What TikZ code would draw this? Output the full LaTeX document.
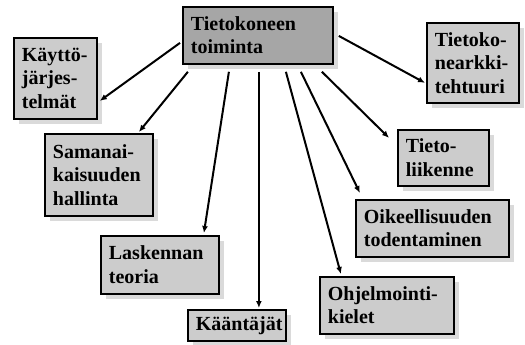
\documentclass[tikz,border=0pt]{standalone}
\usepackage{fontspec}
\setmainfont{Liberation Serif}
\usetikzlibrary{shadows,arrows.meta}
\definecolor{boxfill}{HTML}{CCCCCC}
\definecolor{hubfill}{HTML}{A6A6A6}
\definecolor{shadefill}{HTML}{DADADA}
\begin{document}
\begin{tikzpicture}[x=1pt,y=-1pt,
  topic/.style={draw=black, line width=1.8pt, fill=boxfill, anchor=north west,
    inner xsep=8pt, inner ysep=0pt, align=left,
    font=\fontsize{20}{23.5}\selectfont\bfseries,
    drop shadow={shadow xshift=5pt, shadow yshift=-5pt, fill=shadefill, opacity=1}},
  hub/.style={topic, fill=hubfill},
  link/.style={line width=2pt, -{Latex[length=7pt,width=6pt]}}]
\useasboundingbox (0,0) rectangle (525,345);

% boxes: position of top-left corner, text width = box width - 16
\node[hub,   text width=134pt, minimum height=57pt] (c)  at (182,6)   {Tietokoneen\\toiminta};
\node[topic, text width=67pt,  minimum height=81pt] (k)  at (13,37)   {Käyttö-\\järjes-\\telmät};
\node[topic, text width=92pt,  minimum height=82pt] (s)  at (44,133)  {Samanai-\\kaisuuden\\hallinta};
\node[topic, text width=102pt, minimum height=58pt] (l)  at (100,235) {Laskennan\\teoria};
\node[topic, text width=82pt,  minimum height=31pt] (kj) at (187,309) {Kääntäjät};
\node[topic, text width=76pt,  minimum height=80pt] (a)  at (426,22)  {Tietoko-\\nearkki-\\tehtuuri};
\node[topic, text width=75pt,  minimum height=56pt] (t)  at (397,129) {Tieto-\\liikenne};
\node[topic, text width=137pt, minimum height=57pt] (o)  at (355,199) {Oikeellisuuden\\todentaminen};
\node[topic, text width=118pt, minimum height=57pt] (p)  at (319,276) {Ohjelmointi-\\kielet};

% connectors from the hub to each topic
\draw[link] ([shift={(-2,7.5)}]c.west)  -- ([shift={(2,22.5)}]k.east);
\draw[link] ([shift={(-70,7)}]c.south)  -- ([shift={(40,-1)}]s.north);
\draw[link] ([shift={(-29,7)}]c.south)  -- ([shift={(44,-2)}]l.north);
\draw[link] ([shift={(1,7)}]c.south)    -- ([shift={(22,-1)}]kj.north);
\draw[link] ([shift={(28,7)}]c.south)   -- ([shift={(-46,-2)}]p.north);
\draw[link] ([shift={(43,7)}]c.south)   -- ([shift={(-72.5,-6)}]o.north);
\draw[link] ([shift={(64,7)}]c.south)   -- ([shift={(-8,-20)}]t.west);
\draw[link] ([shift={(5,0.5)}]c.east)   -- ([shift={(-1,20)}]a.west);
\end{tikzpicture}
\end{document}
